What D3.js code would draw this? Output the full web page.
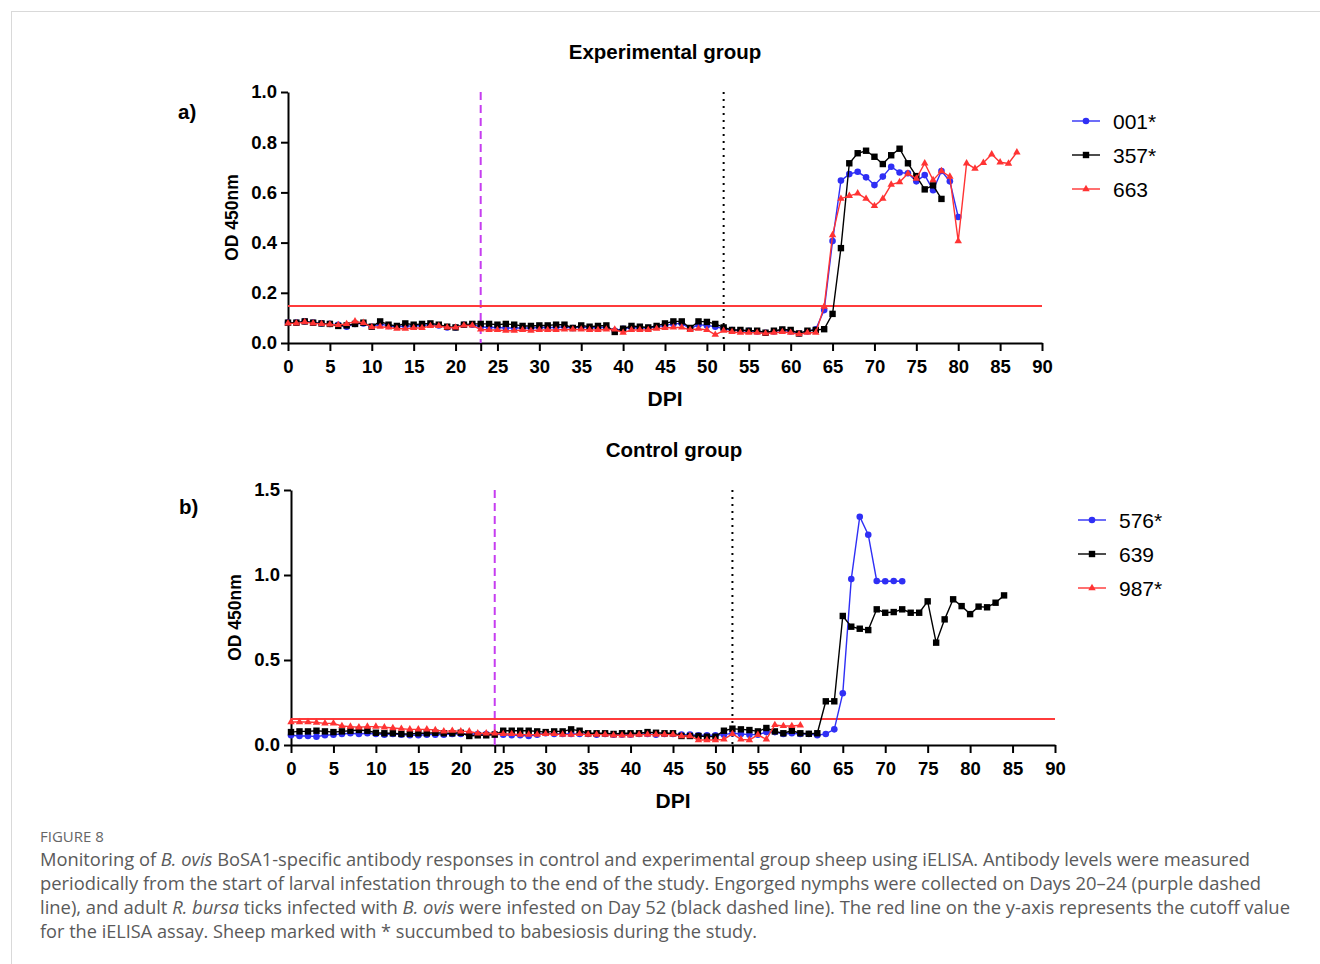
<!DOCTYPE html>
<html>
<head>
<meta charset="utf-8">
<title>Figure 8</title>
<script src="https://cdn.jsdelivr.net/npm/d3@7"></script>
<style>
body { margin: 0; background: #fff; }
svg { display: block; }
.ax text { font-family: "Liberation Sans", Arial, sans-serif; font-weight: bold; font-size: 18.5px; fill: #000; }
.ax path, .ax line { stroke: #000; stroke-width: 2; }
</style>
</head>
<body>
<svg id="fig" width="1320" height="964"></svg>
<script>
// day = array index (daily sampling from day 0)
var s001 = [.081,.081,.086,.081,.078,.076,.073,.065,.076,.078,.065,.076,.068,.065,.068,.068,.070,.073,.070,.062,
  .062,.073,.073,.065,.062,.062,.060,.060,.060,.060,.062,.062,.062,.065,.060,.065,.060,.062,.062,.049,
  .057,.062,.060,.060,.065,.070,.076,.078,.057,.073,.070,.065,.057,.052,.049,.049,.046,.041,.046,.052,
  .046,.038,.046,.055,.131,.406,.647,.673,.682,.660,.629,.663,.702,.679,.676,.644,.669,.609,.685,.644,.502];
var s357 = [.081,.081,.086,.081,.078,.076,.068,.070,.076,.081,.065,.086,.073,.068,.078,.073,.076,.078,.073,.065,
  .062,.073,.076,.076,.076,.073,.076,.073,.068,.068,.070,.070,.073,.073,.060,.070,.065,.068,.070,.044,
  .057,.068,.065,.062,.068,.078,.086,.086,.060,.086,.084,.076,.062,.052,.052,.049,.049,.041,.049,.054,
  .052,.038,.049,.052,.055,.116,.378,.716,.756,.766,.742,.713,.748,.774,.716,.665,.612,.628,.574];
var s663 = [.078,.078,.083,.078,.076,.074,.072,.076,.086,.080,.063,.065,.062,.057,.057,.060,.060,.068,.068,.062,
  .062,.070,.070,.054,.052,.052,.049,.049,.052,.049,.052,.052,.052,.054,.054,.054,.052,.052,.054,.054,
  .041,.052,.052,.052,.057,.060,.062,.062,.052,.057,.052,.033,.049,.044,.041,.041,.041,.038,.041,.044,
  .041,.035,.041,.041,.145,.430,.575,.586,.596,.575,.546,.575,.631,.641,.675,.655,.716,.649,.685,.663,
  .406,.716,.695,.718,.752,.720,.715,.760];

var s576 = [.057,.053,.053,.049,.057,.061,.065,.069,.065,.069,.065,.061,.065,.061,.057,.057,.061,.061,.061,.065,
  .065,.065,.065,.065,.065,.061,.057,.057,.053,.061,.069,.065,.065,.065,.065,.065,.061,.065,.061,.061,
  .061,.065,.065,.061,.065,.065,.061,.061,.057,.057,.057,.061,.069,.065,.061,.061,.076,.076,.065,.069,
  .065,.065,.057,.065,.092,.304,.976,1.343,1.237,.965,.963,.965,.963];
var s639 = [.076,.080,.080,.084,.080,.076,.080,.084,.088,.084,.072,.069,.069,.065,.065,.069,.069,.072,.069,.069,
  .072,.053,.057,.057,.061,.084,.084,.084,.084,.080,.076,.080,.080,.092,.084,.069,.069,.069,.065,.069,
  .069,.069,.076,.072,.069,.069,.053,.053,.053,.049,.049,.084,.096,.092,.088,.080,.100,.080,.069,.084,
  .069,.066,.069,.257,.257,.759,.696,.684,.676,.798,.778,.782,.798,.778,.778,.845,.602,.739,.857,.817,
  .770,.814,.810,.837,.880];
var s987 = [.135,.135,.135,.132,.127,.127,.112,.108,.104,.108,.108,.104,.100,.096,.092,.092,.092,.088,.080,.084,
  .080,.080,.069,.069,.069,.065,.065,.061,.061,.061,.065,.065,.061,.061,.065,.061,.061,.061,.057,.057,
  .057,.061,.061,.061,.061,.061,.053,.053,.029,.029,.029,.033,.065,.033,.029,.060,.033,.118,.112,.112,.116];

var xTicks = [0,5,10,15,20,25,30,35,40,45,50,55,60,65,70,75,80,85,90];
var cutoffA = 0.147, cutoffB = 0.153;

var svg = d3.select("#fig");
var font = '"Liberation Sans", Arial, sans-serif';

// frame lines of the figure page
svg.append("line").attr("x1", 11).attr("x2", 1320).attr("y1", 11.5).attr("y2", 11.5).attr("stroke", "#d9d9d9");
svg.append("line").attr("x1", 11.5).attr("x2", 11.5).attr("y1", 11).attr("y2", 964).attr("stroke", "#d9d9d9");

function marker(g, shape, color, x, y) {
  if (shape == "circle") {
    g.append("circle").attr("cx", x).attr("cy", y).attr("r", 3.3).attr("fill", color);
  } else if (shape == "square") {
    g.append("rect").attr("x", x - 3.2).attr("y", y - 3.2).attr("width", 6.4).attr("height", 6.4).attr("fill", color);
  } else {
    g.append("path").attr("d", d3.symbol(d3.symbolTriangle, 24)()).attr("transform", "translate(" + x + "," + y + ")").attr("fill", color);
  }
}

function panel(o) {
  var x = d3.scaleLinear().domain([0, 90]).range([o.x0, o.x1]);
  var y = d3.scaleLinear().domain([0, o.ymax]).range([o.y0, o.y1]);
  var g = svg.append("g");

  g.append("text").attr("x", o.tx).attr("y", o.ty).attr("text-anchor", "middle")
    .style("font-family", font).style("font-weight", "bold").style("font-size", "20.5px").text(o.title);
  g.append("text").attr("x", o.lx).attr("y", o.ly)
    .style("font-family", font).style("font-weight", "bold").style("font-size", "20.5px").text(o.letter);

  g.append("g").attr("class", "ax").attr("transform", "translate(" + o.x0 + ",0)")
    .call(d3.axisLeft(y).tickValues(o.yTicks).tickFormat(d3.format(".1f")).tickSize(7).tickPadding(4).tickSizeOuter(0));

  g.append("g").attr("class", "ax").attr("transform", "translate(0," + o.y0 + ")")
    .call(d3.axisBottom(x).tickValues(xTicks.concat(o.marks)).tickFormat(function(d) { return d % 5 == 0 ? d : ""; })
      .tickSize(8).tickPadding(9).tickSizeOuter(0));

  g.append("text").attr("transform", "translate(" + (o.x0 - 50) + "," + ((o.y0 + o.y1) / 2) + ") rotate(-90)")
    .attr("text-anchor", "middle").style("font-family", font).style("font-weight", "bold").style("font-size", "17.5px").text("OD 450nm");
  g.append("text").attr("x", (o.x0 + o.x1) / 2).attr("y", o.y0 + 63).attr("text-anchor", "middle")
    .style("font-family", font).style("font-weight", "bold").style("font-size", "21px").text("DPI");

  // infestation markers
  g.append("line").attr("x1", x(o.marks[0])).attr("x2", x(o.marks[0])).attr("y1", y(o.ymax)).attr("y2", o.y0)
    .attr("stroke", "#c63df0").attr("stroke-width", 2).attr("stroke-dasharray", "8,5");
  g.append("line").attr("x1", x(o.marks[1])).attr("x2", x(o.marks[1])).attr("y1", y(o.ymax)).attr("y2", o.y0)
    .attr("stroke", "#000").attr("stroke-width", 2).attr("stroke-dasharray", "2,5");

  // cutoff
  g.append("line").attr("x1", x(0)).attr("x2", x(90)).attr("y1", y(o.cutoff)).attr("y2", y(o.cutoff))
    .attr("stroke", "#ff3b3b").attr("stroke-width", 2);

  var line = d3.line().x(function(d, i) { return x(i); }).y(function(d) { return y(d); });
  o.series.forEach(function(s) {
    g.append("path").datum(s.values).attr("d", line).attr("fill", "none").attr("stroke", s.color).attr("stroke-width", 1.4);
    var mg = g.append("g");
    s.values.forEach(function(v, i) { marker(mg, s.shape, s.color, x(i), y(v)); });
  });

  // legend
  o.series.forEach(function(s, i) {
    var ly = o.legY + i * 34;
    g.append("line").attr("x1", o.legX).attr("x2", o.legX + 28).attr("y1", ly).attr("y2", ly).attr("stroke", s.color).attr("stroke-width", 1.4);
    marker(g, s.shape, s.color, o.legX + 14, ly);
    g.append("text").attr("x", o.legX + 41).attr("y", ly + 7.5).style("font-family", font).style("font-size", "21px").text(s.name);
  });
}

panel({
  title: "Experimental group", tx: 665, ty: 59, letter: "a)", lx: 178, ly: 119,
  x0: 288, x1: 1042, y0: 343, y1: 92, ymax: 1.0, yTicks: [0, .2, .4, .6, .8, 1.0],
  marks: [23, 52], cutoff: cutoffA, legX: 1072, legY: 121,
  series: [
    { name: "001*", values: s001, color: "#2f2ff5", shape: "circle" },
    { name: "357*", values: s357, color: "#000", shape: "square" },
    { name: "663", values: s663, color: "#ff3333", shape: "triangle" }
  ]
});

panel({
  title: "Control group", tx: 674, ty: 457, letter: "b)", lx: 179, ly: 514,
  x0: 291, x1: 1055, y0: 745, y1: 490, ymax: 1.5, yTicks: [0, .5, 1.0, 1.5],
  marks: [24, 52], cutoff: cutoffB, legX: 1078, legY: 520,
  series: [
    { name: "576*", values: s576, color: "#2f2ff5", shape: "circle" },
    { name: "639", values: s639, color: "#000", shape: "square" },
    { name: "987*", values: s987, color: "#ff3333", shape: "triangle" }
  ]
});

// caption
var cap = svg.append("g").style("font-family", '"Open Sans", "Noto Sans", sans-serif').style("fill", "#5a5a5a");
cap.append("text").attr("x", 40).attr("y", 842).style("font-size", "15px").style("fill", "#666").text("FIGURE 8");
var capLines = [
  [["Monitoring of ", 0], ["B. ovis", 1], [" BoSA1-specific antibody responses in control and experimental group sheep using iELISA. Antibody levels were measured", 0]],
  [["periodically from the start of larval infestation through to the end of the study. Engorged nymphs were collected on Days 20\u201324 (purple dashed", 0]],
  [["line), and adult ", 0], ["R. bursa", 1], [" ticks infected with ", 0], ["B. ovis", 1], [" were infested on Day 52 (black dashed line). The red line on the y-axis represents the cutoff value", 0]],
  [["for the iELISA assay. Sheep marked with * succumbed to babesiosis during the study.", 0]]
];
var capWidths = [1210, 1221, 1250, 717];
capLines.forEach(function(parts, i) {
  var t = cap.append("text").attr("x", 40).attr("y", 866 + i * 24).style("font-size", "18px")
    .attr("textLength", capWidths[i]).attr("lengthAdjust", "spacingAndGlyphs");
  parts.forEach(function(p) {
    t.append("tspan").style("font-style", p[1] ? "italic" : "normal").text(p[0]);
  });
});
</script>
</body>
</html>
